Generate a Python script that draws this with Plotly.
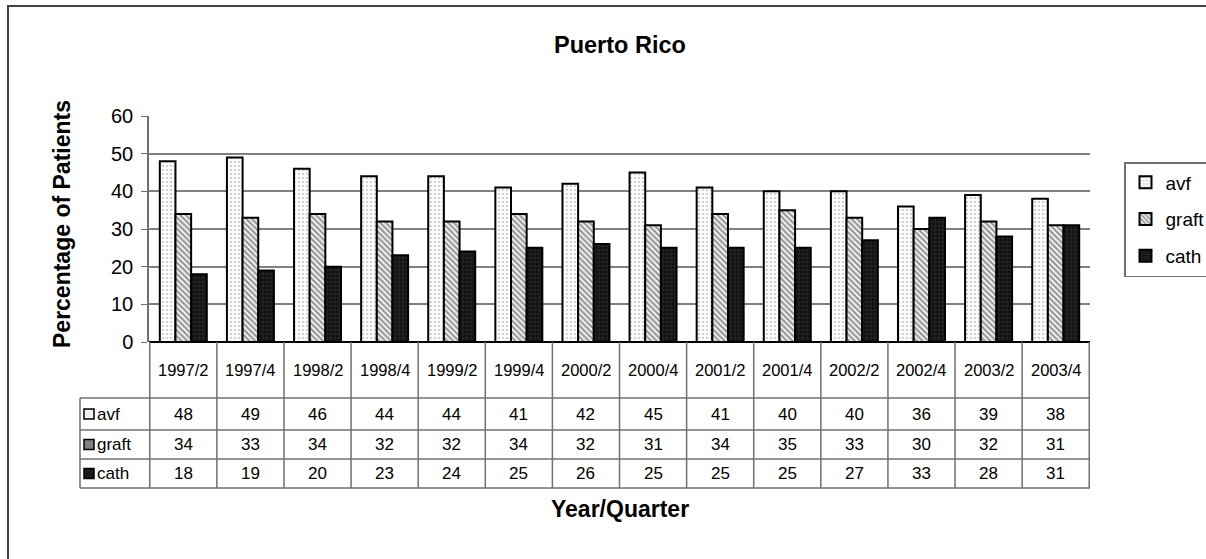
import plotly.graph_objects as go

# Vascular access type share by quarter
categories = ["1997/2", "1997/4", "1998/2", "1998/4", "1999/2", "1999/4", "2000/2",
              "2000/4", "2001/2", "2001/4", "2002/2", "2002/4", "2003/2", "2003/4"]
avf = [48, 49, 46, 44, 44, 41, 42, 45, 41, 40, 40, 36, 39, 38]
graft = [34, 33, 34, 32, 32, 34, 32, 31, 34, 35, 33, 30, 32, 31]
cath = [18, 19, 20, 23, 24, 25, 26, 25, 25, 25, 27, 33, 28, 31]
y_ticks = [0, 10, 20, 30, 40, 50, 60]

W, H = 1206, 559
L, R, T, B = 149, 1090, 116, 342          # plot area in pixels
FONT = "Liberation Sans, Arial, sans-serif"


def px(xp):
    return (xp - L) / (R - L)


def py(yp):
    return (B - yp) / (B - T)


series = [
    ("avf", avf, dict(shape=".", bgcolor="#ffffff", fgcolor="#a8a8a8", size=4, solidity=0.35)),
    ("graft", graft, dict(shape="\\", bgcolor="#ffffff", fgcolor="#333333", size=4, solidity=0.6)),
    ("cath", cath, dict(shape="+", bgcolor="#111111", fgcolor="#5a5a5a", size=4, solidity=0.25)),
]

fig = go.Figure()
for name, vals, pat in series:
    fig.add_trace(go.Bar(
        x=categories, y=vals, name=name, legendgroup=name,
        marker=dict(color=pat["bgcolor"], pattern=pat,
                    line=dict(color="#000000", width=2)),
    ))

shapes = []
annotations = []
line_col = "#707070"

# table rows (pixel y boundaries)
row_top, hdr_bot, avf_bot, graft_bot, cath_bot = 342, 398, 430, 459, 488
tbl_left = 80


def label(x, y, text, size, xref="paper", **kw):
    d = dict(x=x, xref=xref, y=y, yref="paper", text=text, showarrow=False,
             xanchor="center", yanchor="middle",
             font=dict(size=size, color="#000", family=FONT))
    d.update(kw)
    annotations.append(d)


# horizontal table lines
for yp in (hdr_bot, avf_bot, graft_bot, cath_bot):
    shapes.append(dict(type="line", xref="paper", yref="paper",
                       x0=px(tbl_left), x1=px(R), y0=py(yp), y1=py(yp),
                       line=dict(color=line_col, width=1.5)))
# left edge of label column
shapes.append(dict(type="line", xref="paper", yref="paper",
                   x0=px(tbl_left), x1=px(tbl_left), y0=py(hdr_bot), y1=py(cath_bot),
                   line=dict(color=line_col, width=1.5)))
# vertical column separators
for i in range(len(categories) + 1):
    shapes.append(dict(type="line", xref="x", yref="paper",
                       x0=i - 0.5, x1=i - 0.5, y0=0, y1=py(cath_bot),
                       line=dict(color=line_col, width=1.5)))

# header labels
for c in categories:
    label(c, py((row_top + hdr_bot) / 2), c, 16.5, xref="x")

rows = [("avf", avf, hdr_bot, avf_bot), ("graft", graft, avf_bot, graft_bot),
        ("cath", cath, graft_bot, cath_bot)]
swatch = {"avf": "#f0f0f0", "graft": "#808080", "cath": "#1a1a1a"}
for name, vals, y0, y1 in rows:
    cy = (y0 + y1) / 2
    for c, v in zip(categories, vals):
        label(c, py(cy), str(v), 17, xref="x")
    # row label with swatch
    shapes.append(dict(type="rect", xref="paper", yref="paper",
                       x0=px(84), x1=px(94), y0=py(cy + 5), y1=py(cy - 5),
                       fillcolor=swatch[name], line=dict(color="#000", width=1.5)))
    label(px(95), py(cy), name, 17, xanchor="left")

# titles
label(px(620), py(45), "<b>Puerto Rico</b>", 23.5)
label(px(620), py(509), "<b>Year/Quarter</b>", 23)
label(px(62), py(224), "<b>Percentage of Patients</b>", 23, textangle=-90)

# outer chart border
shapes.append(dict(type="rect", xref="paper", yref="paper", layer="below",
                   x0=px(8), x1=px(1215), y0=py(570), y1=py(6),
                   line=dict(color="#404040", width=2), fillcolor="rgba(0,0,0,0)"))

fig.update_layout(
    width=W, height=H, autosize=False,
    margin=dict(l=L, r=W - R, t=T, b=H - B, pad=0),
    paper_bgcolor="#ffffff", plot_bgcolor="#ffffff",
    font=dict(family=FONT, color="#000"),
    barmode="group", bargap=0.3, bargroupgap=0,
    showlegend=True,
    legend=dict(xref="container", yref="container",
                x=1124 / W, y=1 - 162 / H, xanchor="left", yanchor="top",
                bordercolor="#707070", borderwidth=1.5, bgcolor="#ffffff",
                font=dict(size=19, family=FONT, color="#000"),
                tracegroupgap=9, itemwidth=30),
    xaxis=dict(showticklabels=False, ticks="", showgrid=False, showline=False, zeroline=False),
    yaxis=dict(range=[0, 60], tickvals=y_ticks, ticks="outside", ticklen=6,
               ticklabelstandoff=4,
               tickcolor="#707070", tickfont=dict(size=20, family=FONT, color="#000"),
               showgrid=True, gridcolor="#808080", gridwidth=1.5,
               showline=True, linecolor="#707070", linewidth=1.5,
               zeroline=True, zerolinecolor="#000", zerolinewidth=1.5),
    shapes=shapes, annotations=annotations,
)

fig.write_html(
    "out.html",
    config={"responsive": False},
    post_script="document.documentElement.style.overflow='hidden';"
                "document.body.style.overflow='hidden';document.body.style.margin='0';",
)
